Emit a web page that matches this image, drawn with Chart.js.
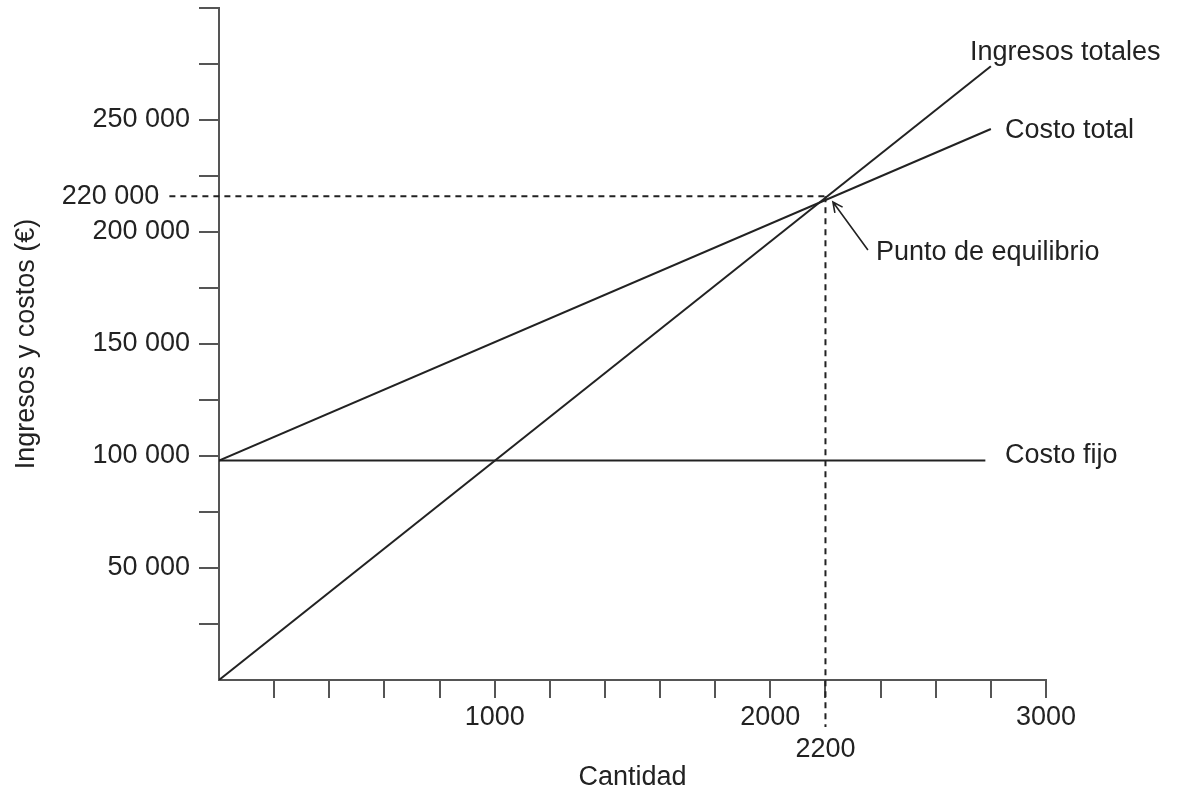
<!DOCTYPE html>
<html lang="es">
<head>
<meta charset="UTF-8">
<title>Punto de equilibrio</title>
<script src="https://cdn.jsdelivr.net/npm/chart.js@4"></script>
<style>
  html, body { margin: 0; padding: 0; background: #fff; }
  #wrap { width: 1182px; height: 791px; }
</style>
</head>
<body>
<div id="wrap"><canvas id="chart"></canvas></div>
<script>
// Valores
const cantidad = [0, 2800];
const ingresosTotales = [0, 274000];
const costoTotal = [98000, 246000];
const cantidadFijo = [0, 2780];
const costoFijo = [98000, 98000];

const equilibrioQ = 2200;
const equilibrioValor = 216000;
const equilibrioTextoY = '220 000';
const equilibrioTextoX = '2200';

// lineas de guia punteadas
const guiaHorizX = [-180, equilibrioQ];
const guiaHorizY = [equilibrioValor, equilibrioValor];
const guiaVertX = [equilibrioQ, equilibrioQ];
const guiaVertY = [equilibrioValor, -21000];

const yEtiquetas = [50000, 100000, 150000, 200000, 250000];
const xEtiquetas = [1000, 2000, 3000];

const nombres = ['Ingresos totales', 'Costo total', 'Costo fijo', 'Punto de equilibrio'];
// donde va cada rotulo (en unidades de los ejes)
const rotuloX = [2724, 2851, 2851, 2383];
const rotuloY = [280000, 245500, 100400, 191000];
const flechaDesde = [2354, 192000];
const flechaHasta = [2227, 213400];

const FUENTE = { family: '"Liberation Sans", Arial, sans-serif', size: 27 };
const TINTA = '#222';
const EJE = '#555';

const pares = (xs, ys) => xs.map((x, i) => ({ x: x, y: ys[i] }));
const miles = v => String(v).replace(/\B(?=(\d{3})+(?!\d))/g, ' ');

const linea = (label, data, extra) => Object.assign({
    label: label,
    data: data,
    showLine: true,
    borderColor: TINTA,
    borderWidth: 2,
    pointRadius: 0,
    fill: false
}, extra || {});

const rotulos = {
    id: 'rotulos',
    afterDatasetsDraw(chart) {
        const { ctx, scales: { x, y } } = chart;
        ctx.save();
        ctx.font = FUENTE.size + 'px ' + FUENTE.family;
        ctx.fillStyle = TINTA;
        ctx.textBaseline = 'middle';
        ctx.textAlign = 'left';
        nombres.forEach((t, i) => {
            ctx.fillText(t, x.getPixelForValue(rotuloX[i]), y.getPixelForValue(rotuloY[i]));
        });

        // flecha hacia el punto de equilibrio
        const x0 = x.getPixelForValue(flechaDesde[0]), y0 = y.getPixelForValue(flechaDesde[1]);
        const x1 = x.getPixelForValue(flechaHasta[0]), y1 = y.getPixelForValue(flechaHasta[1]);
        const ang = Math.atan2(y1 - y0, x1 - x0);
        ctx.strokeStyle = TINTA;
        ctx.lineWidth = 1.6;
        ctx.beginPath();
        ctx.moveTo(x0, y0);
        ctx.lineTo(x1, y1);
        ctx.moveTo(x1 - 11 * Math.cos(ang - 0.45), y1 - 11 * Math.sin(ang - 0.45));
        ctx.lineTo(x1, y1);
        ctx.lineTo(x1 - 11 * Math.cos(ang + 0.45), y1 - 11 * Math.sin(ang + 0.45));
        ctx.stroke();

        // etiquetas del punto de equilibrio sobre los ejes
        ctx.textAlign = 'right';
        ctx.fillText(equilibrioTextoY, x.getPixelForValue(guiaHorizX[0]) - 10, y.getPixelForValue(equilibrioValor));
        ctx.textAlign = 'center';
        ctx.fillText(equilibrioTextoX, x.getPixelForValue(equilibrioQ), y.getPixelForValue(guiaVertY[1]) + 23);
        ctx.restore();
    }
};

const marcaColor = c => (c.tick && c.tick.value === 0) ? 'rgba(0,0,0,0)' : EJE;

new Chart(document.getElementById('chart'), {
    type: 'scatter',
    data: {
        datasets: [
            linea(nombres[0], pares(cantidad, ingresosTotales)),
            linea(nombres[1], pares(cantidad, costoTotal)),
            linea(nombres[2], pares(cantidadFijo, costoFijo)),
            linea('guia y', pares(guiaHorizX, guiaHorizY), { borderDash: [6, 5], clip: false }),
            linea('guia x', pares(guiaVertX, guiaVertY), { borderDash: [6, 5], clip: false })
        ]
    },
    options: {
        responsive: true,
        maintainAspectRatio: false,
        animation: false,
        layout: { padding: { top: 8, right: 136, left: 0, bottom: 0 } },
        plugins: {
            legend: { display: false },
            tooltip: { enabled: false }
        },
        scales: {
            x: {
                type: 'linear',
                min: 0,
                max: 3000,
                afterFit: s => { s.height = 111; s.paddingLeft = 0; s.paddingRight = 0; },
                ticks: {
                    stepSize: 200,
                    autoSkip: false,
                    maxRotation: 0,
                    padding: 3,
                    color: TINTA,
                    font: FUENTE,
                    callback: v => xEtiquetas.includes(v) ? String(v) : ''
                },
                grid: { drawOnChartArea: false, tickLength: 18, lineWidth: 2, color: marcaColor },
                border: { color: EJE, width: 2 },
                title: { display: true, text: 'Cantidad', color: TINTA, font: Object.assign({ lineHeight: 1 }, FUENTE), padding: { top: 0, bottom: 0 } }
            },
            y: {
                min: 0,
                max: 300000,
                afterFit: s => { s.width = 219; s.paddingTop = 0; s.paddingBottom = 0; },
                ticks: {
                    stepSize: 25000,
                    autoSkip: false,
                    padding: 9,
                    color: TINTA,
                    font: FUENTE,
                    callback: v => yEtiquetas.includes(v) ? miles(v) : ''
                },
                grid: { drawOnChartArea: false, tickLength: 20, lineWidth: 2, color: marcaColor },
                border: { color: EJE, width: 2 },
                title: { display: true, text: 'Ingresos y costos (€)', color: TINTA, font: Object.assign({ lineHeight: 1.2 }, FUENTE), padding: { top: 10, bottom: 0 } }
            }
        }
    },
    plugins: [rotulos]
});
</script>
</body>
</html>
